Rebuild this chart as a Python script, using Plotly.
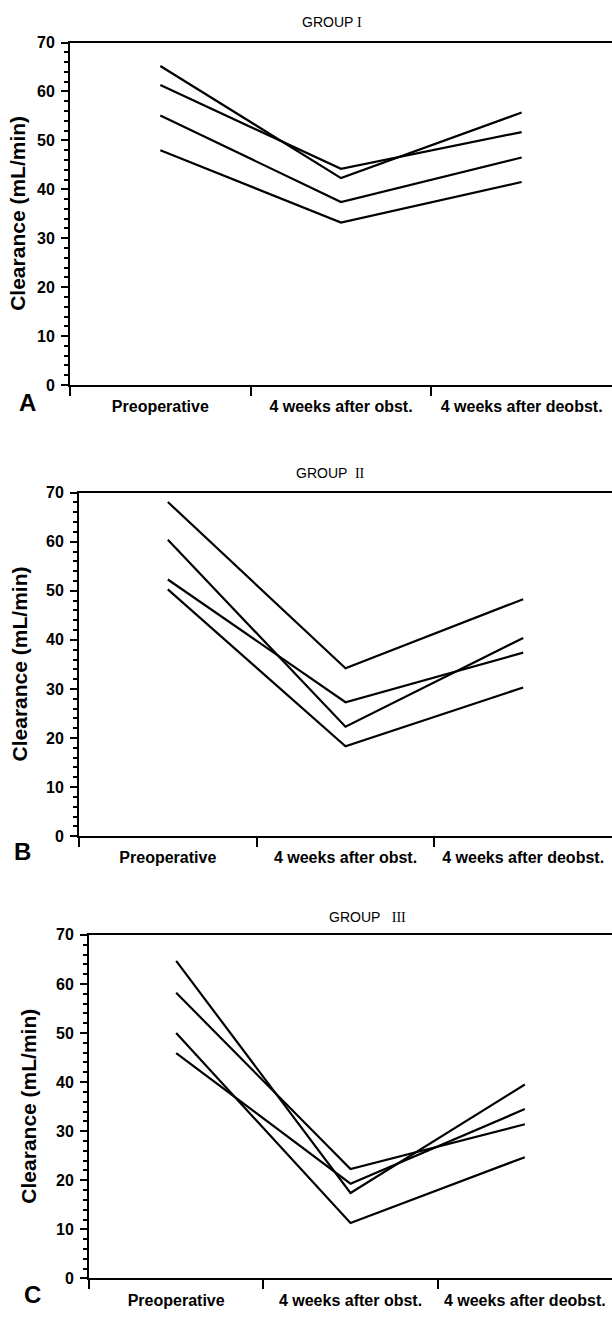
import plotly.graph_objects as go

categories = ["Preoperative", "4 weeks after obst.", "4 weeks after deobst."]
cat_pos = [0, 1, 2]

group1 = [
    [65.2, 42.3, 55.7],
    [61.3, 44.2, 51.7],
    [55.1, 37.4, 46.5],
    [48.0, 33.2, 41.5],
]
group2 = [
    [68.1, 34.2, 48.3],
    [60.4, 22.3, 40.4],
    [52.3, 27.3, 37.4],
    [50.3, 18.3, 30.3],
]
group3 = [
    [64.7, 17.4, 39.5],
    [58.2, 22.3, 31.4],
    [50.0, 11.3, 24.7],
    [45.9, 19.3, 34.5],
]
groups = [group1, group2, group3]
titles = ["GROUP <span style='font-family:Liberation Serif'>I</span>",
          "GROUP  <span style='font-family:Liberation Serif'>II</span>",
          "GROUP   <span style='font-family:Liberation Serif'>III</span>"]
panel_letters = ["A", "B", "C"]
y_ticks = [0, 10, 20, 30, 40, 50, 60, 70]
y_title = "Clearance (mL/min)"

W, H = 612, 1318
# pixel geometry of each panel: (x_left, y_top, y_bottom)
panels = [(70, 35, 382), (79, 491, 839), (89, 939, 1287)]
title_pos = [(332, 14), (330, 471), (367, 921)]
ytitle_x = [18, 19, 29]
letter_pos = [(28, 400), (22, 855), (32, 1303)]

def py(p):
    return 1 - p / H

FONT = "Liberation Sans, Arial, sans-serif"
fig = go.Figure()
layout = dict(width=W, height=H, margin=dict(l=0, r=0, t=0, b=0),
              paper_bgcolor="white", plot_bgcolor="white", showlegend=False,
              annotations=[])

for i, grp in enumerate(groups):
    n = "" if i == 0 else str(i + 1)
    xl, yt, yb = panels[i]
    for series in grp:
        fig.add_trace(go.Scatter(x=cat_pos, y=series, mode="lines",
                                 line=dict(color="black", width=2.2),
                                 xaxis="x" + n, yaxis="y" + n,
                                 hoverinfo="skip"))
    layout["xaxis" + n] = dict(
        domain=[xl / W, 1], range=[-0.5, 2.5], anchor="y" + n,
        tickmode="array", tickvals=cat_pos, ticktext=categories,
        ticks="", showgrid=False, zeroline=False,
        showline=True, linecolor="black", linewidth=2, mirror=True,
        tickfont=dict(family=FONT, size=16, color="black", weight="bold"),
        ticklabelstandoff=6,
        minor=dict(tickmode="array", tickvals=[-0.5, 0.5, 1.5],
                   ticks="outside", ticklen=9, tickwidth=2, tickcolor="black",
                   showgrid=False),
    )
    layout["yaxis" + n] = dict(
        domain=[py(yb), py(yt)], range=[0, 70], anchor="x" + n,
        tickmode="array", tickvals=y_ticks,
        ticks="outside", ticklen=7, tickwidth=2, tickcolor="black",
        showgrid=False, zeroline=False,
        showline=True, linecolor="black", linewidth=2,
        tickfont=dict(family=FONT, size=16, color="black", weight="bold"),
        ticklabelstandoff=3,
        minor=dict(dtick=2, ticks="outside", ticklen=4, tickwidth=1.5,
                   tickcolor="black", showgrid=False),
    )
    tx, ty = title_pos[i]
    layout["annotations"].append(dict(
        text=titles[i], x=tx / W, y=py(ty), xref="paper", yref="paper",
        showarrow=False, xanchor="center", yanchor="middle",
        font=dict(family=FONT, size=14, color="black")))
    layout["annotations"].append(dict(
        text=y_title, x=ytitle_x[i] / W, y=py((yt + yb) / 2),
        xref="paper", yref="paper", showarrow=False, textangle=-90,
        xanchor="center", yanchor="middle",
        font=dict(family=FONT, size=21, color="black", weight="bold")))
    lx, ly = letter_pos[i]
    layout["annotations"].append(dict(
        text=panel_letters[i], x=lx / W, y=py(ly), xref="paper", yref="paper",
        showarrow=False, xanchor="center", yanchor="middle",
        font=dict(family=FONT, size=24, color="black", weight="bold")))

fig.update_layout(**layout)
fig.write_html("out.html",
               config={"displayModeBar": False},
               post_script="document.body.style.margin='0';"
                           "document.body.style.overflow='hidden';")
